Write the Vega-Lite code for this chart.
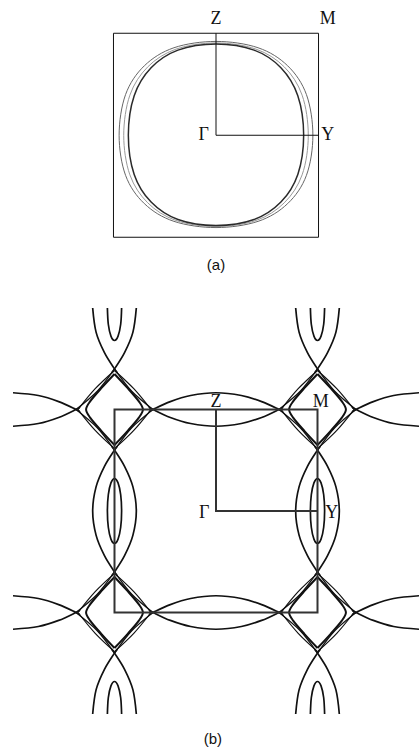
{
  "$schema": "https://vega.github.io/schema/vega-lite/v6.json",
  "padding": {"left": 9, "top": 0, "right": 0, "bottom": 0},
  "background": "white",
  "spacing": 0,
  "bounds": "flush",
  "config": {"view": {"stroke": null}},
  "datasets": {
    "fsA": [
      {"c":"out","x":0.945,"y":0},{"c":"out","x":0.882,"y":0.399},{"c":"out","x":0.699,"y":0.681},{"c":"out","x":0.41,"y":0.858},{"c":"out","x":0,"y":0.92},{"c":"out","x":-0.41,"y":0.858},{"c":"out","x":-0.699,"y":0.681},{"c":"out","x":-0.882,"y":0.399},{"c":"out","x":-0.945,"y":0},{"c":"out","x":-0.882,"y":-0.393},{"c":"out","x":-0.699,"y":-0.67},{"c":"out","x":-0.41,"y":-0.844},{"c":"out","x":0,"y":-0.905},{"c":"out","x":0.41,"y":-0.844},{"c":"out","x":0.699,"y":-0.67},{"c":"out","x":0.882,"y":-0.393},
      {"c":"mid","x":0.9,"y":0},{"c":"mid","x":0.84,"y":0.393},{"c":"mid","x":0.666,"y":0.67},{"c":"mid","x":0.391,"y":0.844},{"c":"mid","x":0,"y":0.905},{"c":"mid","x":-0.391,"y":0.844},{"c":"mid","x":-0.666,"y":0.67},{"c":"mid","x":-0.84,"y":0.393},{"c":"mid","x":-0.9,"y":0},{"c":"mid","x":-0.84,"y":-0.388},{"c":"mid","x":-0.666,"y":-0.662},{"c":"mid","x":-0.391,"y":-0.835},{"c":"mid","x":0,"y":-0.895},{"c":"mid","x":0.391,"y":-0.835},{"c":"mid","x":0.666,"y":-0.662},{"c":"mid","x":0.84,"y":-0.388},
      {"c":"inn","x":0.855,"y":0},{"c":"inn","x":0.798,"y":0.388},{"c":"inn","x":0.633,"y":0.662},{"c":"inn","x":0.371,"y":0.835},{"c":"inn","x":0,"y":0.895},{"c":"inn","x":-0.371,"y":0.835},{"c":"inn","x":-0.633,"y":0.662},{"c":"inn","x":-0.798,"y":0.388},{"c":"inn","x":-0.855,"y":0},{"c":"inn","x":-0.798,"y":-0.384},{"c":"inn","x":-0.633,"y":-0.655},{"c":"inn","x":-0.371,"y":-0.826},{"c":"inn","x":0,"y":-0.885},{"c":"inn","x":0.371,"y":-0.826},{"c":"inn","x":0.633,"y":-0.655},{"c":"inn","x":0.798,"y":-0.384}
    ],
    "zone": [{"x":-1,"x2":1,"y":-1,"y2":1}],
    "path": [{"x":0,"y":1},{"x":0,"y":0},{"x":1,"y":0}],
    "labA": [{"t":"Z","x":0,"y":1.135},{"t":"M","x":1.09,"y":1.135},{"t":"Γ","x":-0.12,"y":0},{"t":"Y","x":1.09,"y":0}],
    "labB": [{"t":"Z","x":0,"y":1.077},{"t":"M","x":1.032,"y":1.077},{"t":"Γ","x":-0.116,"y":-0.015},{"t":"Y","x":1.141,"y":-0.015}],
    "capA": [{"t":"(a)","x":0,"y":-1.27}],
    "capB": [{"t":"(b)","x":-0.03,"y":-2.246}],
    "openB": [
      {"c":"h0tu","x":-0.66,"y":0.978},{"c":"h0tu","x":-0.62,"y":1},{"c":"h0tu","x":-0.45,"y":1.078},{"c":"h0tu","x":-0.25,"y":1.138},{"c":"h0tu","x":0,"y":1.165},{"c":"h0tu","x":0.25,"y":1.138},{"c":"h0tu","x":0.45,"y":1.078},{"c":"h0tu","x":0.62,"y":1},{"c":"h0tu","x":0.66,"y":0.978},
      {"c":"h0tl","x":-0.66,"y":1.022},{"c":"h0tl","x":-0.62,"y":1},{"c":"h0tl","x":-0.45,"y":0.922},{"c":"h0tl","x":-0.25,"y":0.862},{"c":"h0tl","x":0,"y":0.835},{"c":"h0tl","x":0.25,"y":0.862},{"c":"h0tl","x":0.45,"y":0.922},{"c":"h0tl","x":0.62,"y":1},{"c":"h0tl","x":0.66,"y":1.022},
      {"c":"h0bu","x":-0.66,"y":-0.978},{"c":"h0bu","x":-0.62,"y":-1},{"c":"h0bu","x":-0.45,"y":-1.078},{"c":"h0bu","x":-0.25,"y":-1.138},{"c":"h0bu","x":0,"y":-1.165},{"c":"h0bu","x":0.25,"y":-1.138},{"c":"h0bu","x":0.45,"y":-1.078},{"c":"h0bu","x":0.62,"y":-1},{"c":"h0bu","x":0.66,"y":-0.978},
      {"c":"h0bl","x":-0.66,"y":-1.022},{"c":"h0bl","x":-0.62,"y":-1},{"c":"h0bl","x":-0.45,"y":-0.922},{"c":"h0bl","x":-0.25,"y":-0.862},{"c":"h0bl","x":0,"y":-0.835},{"c":"h0bl","x":0.25,"y":-0.862},{"c":"h0bl","x":0.45,"y":-0.922},{"c":"h0bl","x":0.62,"y":-1},{"c":"h0bl","x":0.66,"y":-1.022},
      {"c":"hLt1","x":-2,"y":1.165},{"c":"hLt1","x":-1.75,"y":1.138},{"c":"hLt1","x":-1.55,"y":1.078},{"c":"hLt1","x":-1.38,"y":1},{"c":"hLt1","x":-1.34,"y":0.978},
      {"c":"hLt2","x":-2,"y":0.835},{"c":"hLt2","x":-1.75,"y":0.862},{"c":"hLt2","x":-1.55,"y":0.922},{"c":"hLt2","x":-1.38,"y":1},{"c":"hLt2","x":-1.34,"y":1.022},
      {"c":"hLb1","x":-2,"y":-1.165},{"c":"hLb1","x":-1.75,"y":-1.138},{"c":"hLb1","x":-1.55,"y":-1.078},{"c":"hLb1","x":-1.38,"y":-1},{"c":"hLb1","x":-1.34,"y":-0.978},
      {"c":"hLb2","x":-2,"y":-0.835},{"c":"hLb2","x":-1.75,"y":-0.862},{"c":"hLb2","x":-1.55,"y":-0.922},{"c":"hLb2","x":-1.38,"y":-1},{"c":"hLb2","x":-1.34,"y":-1.022},
      {"c":"hRt1","x":2,"y":1.165},{"c":"hRt1","x":1.75,"y":1.138},{"c":"hRt1","x":1.55,"y":1.078},{"c":"hRt1","x":1.38,"y":1},{"c":"hRt1","x":1.34,"y":0.978},
      {"c":"hRt2","x":2,"y":0.835},{"c":"hRt2","x":1.75,"y":0.862},{"c":"hRt2","x":1.55,"y":0.922},{"c":"hRt2","x":1.38,"y":1},{"c":"hRt2","x":1.34,"y":1.022},
      {"c":"hRb1","x":2,"y":-1.165},{"c":"hRb1","x":1.75,"y":-1.138},{"c":"hRb1","x":1.55,"y":-1.078},{"c":"hRb1","x":1.38,"y":-1},{"c":"hRb1","x":1.34,"y":-0.978},
      {"c":"hRb2","x":2,"y":-0.835},{"c":"hRb2","x":1.75,"y":-0.862},{"c":"hRb2","x":1.55,"y":-0.922},{"c":"hRb2","x":1.38,"y":-1},{"c":"hRb2","x":1.34,"y":-1.022},
      {"c":"vR1","x":0.97,"y":-0.64},{"c":"vR1","x":1,"y":-0.6},{"c":"vR1","x":1.099,"y":-0.44},{"c":"vR1","x":1.181,"y":-0.24},{"c":"vR1","x":1.215,"y":0},{"c":"vR1","x":1.181,"y":0.24},{"c":"vR1","x":1.099,"y":0.44},{"c":"vR1","x":1,"y":0.6},{"c":"vR1","x":0.97,"y":0.64},
      {"c":"vR2","x":1.03,"y":-0.64},{"c":"vR2","x":1,"y":-0.6},{"c":"vR2","x":0.901,"y":-0.44},{"c":"vR2","x":0.819,"y":-0.24},{"c":"vR2","x":0.785,"y":0},{"c":"vR2","x":0.819,"y":0.24},{"c":"vR2","x":0.901,"y":0.44},{"c":"vR2","x":1,"y":0.6},{"c":"vR2","x":1.03,"y":0.64},
      {"c":"vL1","x":-0.97,"y":-0.64},{"c":"vL1","x":-1,"y":-0.6},{"c":"vL1","x":-1.099,"y":-0.44},{"c":"vL1","x":-1.181,"y":-0.24},{"c":"vL1","x":-1.215,"y":0},{"c":"vL1","x":-1.181,"y":0.24},{"c":"vL1","x":-1.099,"y":0.44},{"c":"vL1","x":-1,"y":0.6},{"c":"vL1","x":-0.97,"y":0.64},
      {"c":"vL2","x":-1.03,"y":-0.64},{"c":"vL2","x":-1,"y":-0.6},{"c":"vL2","x":-0.901,"y":-0.44},{"c":"vL2","x":-0.819,"y":-0.24},{"c":"vL2","x":-0.785,"y":0},{"c":"vL2","x":-0.819,"y":0.24},{"c":"vL2","x":-0.901,"y":0.44},{"c":"vL2","x":-1,"y":0.6},{"c":"vL2","x":-1.03,"y":0.64},
      {"c":"vRT1","x":1.215,"y":2},{"c":"vRT1","x":1.181,"y":1.76},{"c":"vRT1","x":1.099,"y":1.56},{"c":"vRT1","x":1,"y":1.4},{"c":"vRT1","x":0.97,"y":1.36},
      {"c":"vRT2","x":0.785,"y":2},{"c":"vRT2","x":0.819,"y":1.76},{"c":"vRT2","x":0.901,"y":1.56},{"c":"vRT2","x":1,"y":1.4},{"c":"vRT2","x":1.03,"y":1.36},
      {"c":"vLT1","x":-1.215,"y":2},{"c":"vLT1","x":-1.181,"y":1.76},{"c":"vLT1","x":-1.099,"y":1.56},{"c":"vLT1","x":-1,"y":1.4},{"c":"vLT1","x":-0.97,"y":1.36},
      {"c":"vLT2","x":-0.785,"y":2},{"c":"vLT2","x":-0.819,"y":1.76},{"c":"vLT2","x":-0.901,"y":1.56},{"c":"vLT2","x":-1,"y":1.4},{"c":"vLT2","x":-1.03,"y":1.36},
      {"c":"vRB1","x":1.215,"y":-2},{"c":"vRB1","x":1.181,"y":-1.76},{"c":"vRB1","x":1.099,"y":-1.56},{"c":"vRB1","x":1,"y":-1.4},{"c":"vRB1","x":0.97,"y":-1.36},
      {"c":"vRB2","x":0.785,"y":-2},{"c":"vRB2","x":0.819,"y":-1.76},{"c":"vRB2","x":0.901,"y":-1.56},{"c":"vRB2","x":1,"y":-1.4},{"c":"vRB2","x":1.03,"y":-1.36},
      {"c":"vLB1","x":-1.215,"y":-2},{"c":"vLB1","x":-1.181,"y":-1.76},{"c":"vLB1","x":-1.099,"y":-1.56},{"c":"vLB1","x":-1,"y":-1.4},{"c":"vLB1","x":-0.97,"y":-1.36},
      {"c":"vLB2","x":-0.785,"y":-2},{"c":"vLB2","x":-0.819,"y":-1.76},{"c":"vLB2","x":-0.901,"y":-1.56},{"c":"vLB2","x":-1,"y":-1.4},{"c":"vLB2","x":-1.03,"y":-1.36},
      {"c":"uRT","x":0.93,"y":2},{"c":"uRT","x":0.939,"y":1.84},{"c":"uRT","x":0.965,"y":1.723},{"c":"uRT","x":1,"y":1.68},{"c":"uRT","x":1.035,"y":1.723},{"c":"uRT","x":1.061,"y":1.84},{"c":"uRT","x":1.07,"y":2},
      {"c":"uLT","x":-1.07,"y":2},{"c":"uLT","x":-1.061,"y":1.84},{"c":"uLT","x":-1.035,"y":1.723},{"c":"uLT","x":-1,"y":1.68},{"c":"uLT","x":-0.965,"y":1.723},{"c":"uLT","x":-0.939,"y":1.84},{"c":"uLT","x":-0.93,"y":2},
      {"c":"uRB","x":0.93,"y":-2},{"c":"uRB","x":0.939,"y":-1.84},{"c":"uRB","x":0.965,"y":-1.723},{"c":"uRB","x":1,"y":-1.68},{"c":"uRB","x":1.035,"y":-1.723},{"c":"uRB","x":1.061,"y":-1.84},{"c":"uRB","x":1.07,"y":-2},
      {"c":"uLB","x":-1.07,"y":-2},{"c":"uLB","x":-1.061,"y":-1.84},{"c":"uLB","x":-1.035,"y":-1.723},{"c":"uLB","x":-1,"y":-1.68},{"c":"uLB","x":-0.965,"y":-1.723},{"c":"uLB","x":-0.939,"y":-1.84},{"c":"uLB","x":-0.93,"y":-2}
    ],
    "sidesB": [
      {"c":"a1","x":1.38,"y":1},{"c":"a1","x":1.17,"y":1.18},{"c":"a1","x":1,"y":1.4},
      {"c":"a2","x":1,"y":1.4},{"c":"a2","x":0.83,"y":1.18},{"c":"a2","x":0.62,"y":1},
      {"c":"a3","x":0.62,"y":1},{"c":"a3","x":0.83,"y":0.82},{"c":"a3","x":1,"y":0.6},
      {"c":"a4","x":1,"y":0.6},{"c":"a4","x":1.17,"y":0.82},{"c":"a4","x":1.38,"y":1},
      {"c":"b1","x":-0.62,"y":1},{"c":"b1","x":-0.83,"y":1.18},{"c":"b1","x":-1,"y":1.4},
      {"c":"b2","x":-1,"y":1.4},{"c":"b2","x":-1.17,"y":1.18},{"c":"b2","x":-1.38,"y":1},
      {"c":"b3","x":-1.38,"y":1},{"c":"b3","x":-1.17,"y":0.82},{"c":"b3","x":-1,"y":0.6},
      {"c":"b4","x":-1,"y":0.6},{"c":"b4","x":-0.83,"y":0.82},{"c":"b4","x":-0.62,"y":1},
      {"c":"c1","x":1.38,"y":-1},{"c":"c1","x":1.17,"y":-0.82},{"c":"c1","x":1,"y":-0.6},
      {"c":"c2","x":1,"y":-0.6},{"c":"c2","x":0.83,"y":-0.82},{"c":"c2","x":0.62,"y":-1},
      {"c":"c3","x":0.62,"y":-1},{"c":"c3","x":0.83,"y":-1.18},{"c":"c3","x":1,"y":-1.4},
      {"c":"c4","x":1,"y":-1.4},{"c":"c4","x":1.17,"y":-1.18},{"c":"c4","x":1.38,"y":-1},
      {"c":"d1","x":-0.62,"y":-1},{"c":"d1","x":-0.83,"y":-0.82},{"c":"d1","x":-1,"y":-0.6},
      {"c":"d2","x":-1,"y":-0.6},{"c":"d2","x":-1.17,"y":-0.82},{"c":"d2","x":-1.38,"y":-1},
      {"c":"d3","x":-1.38,"y":-1},{"c":"d3","x":-1.17,"y":-1.18},{"c":"d3","x":-1,"y":-1.4},
      {"c":"d4","x":-1,"y":-1.4},{"c":"d4","x":-0.83,"y":-1.18},{"c":"d4","x":-0.62,"y":-1},

      {"c":"e1","x":1.36,"y":1},{"c":"e1","x":1.19,"y":1.205},{"c":"e1","x":1,"y":1.385},
      {"c":"e2","x":1,"y":1.385},{"c":"e2","x":0.81,"y":1.205},{"c":"e2","x":0.64,"y":1},
      {"c":"e3","x":0.64,"y":1},{"c":"e3","x":0.81,"y":0.795},{"c":"e3","x":1,"y":0.615},
      {"c":"e4","x":1,"y":0.615},{"c":"e4","x":1.19,"y":0.795},{"c":"e4","x":1.36,"y":1},
      {"c":"f1","x":-0.64,"y":1},{"c":"f1","x":-0.81,"y":1.205},{"c":"f1","x":-1,"y":1.385},
      {"c":"f2","x":-1,"y":1.385},{"c":"f2","x":-1.19,"y":1.205},{"c":"f2","x":-1.36,"y":1},
      {"c":"f3","x":-1.36,"y":1},{"c":"f3","x":-1.19,"y":0.795},{"c":"f3","x":-1,"y":0.615},
      {"c":"f4","x":-1,"y":0.615},{"c":"f4","x":-0.81,"y":0.795},{"c":"f4","x":-0.64,"y":1},
      {"c":"g1","x":1.36,"y":-1},{"c":"g1","x":1.19,"y":-0.795},{"c":"g1","x":1,"y":-0.615},
      {"c":"g2","x":1,"y":-0.615},{"c":"g2","x":0.81,"y":-0.795},{"c":"g2","x":0.64,"y":-1},
      {"c":"g3","x":0.64,"y":-1},{"c":"g3","x":0.81,"y":-1.205},{"c":"g3","x":1,"y":-1.385},
      {"c":"g4","x":1,"y":-1.385},{"c":"g4","x":1.19,"y":-1.205},{"c":"g4","x":1.36,"y":-1},
      {"c":"h1","x":-0.64,"y":-1},{"c":"h1","x":-0.81,"y":-0.795},{"c":"h1","x":-1,"y":-0.615},
      {"c":"h2","x":-1,"y":-0.615},{"c":"h2","x":-1.19,"y":-0.795},{"c":"h2","x":-1.36,"y":-1},
      {"c":"h3","x":-1.36,"y":-1},{"c":"h3","x":-1.19,"y":-1.205},{"c":"h3","x":-1,"y":-1.385},
      {"c":"h4","x":-1,"y":-1.385},{"c":"h4","x":-0.81,"y":-1.205},{"c":"h4","x":-0.64,"y":-1}
    ],
    "coreB": [
      {"c":"pR","x":1,"y":1.35},{"c":"pR","x":1.13,"y":1.21},{"c":"pR","x":1.24,"y":1.08},{"c":"pR","x":1.28,"y":1},{"c":"pR","x":1.24,"y":0.92},{"c":"pR","x":1.13,"y":0.79},{"c":"pR","x":1,"y":0.65},
      {"c":"pL","x":1,"y":1.35},{"c":"pL","x":0.87,"y":1.21},{"c":"pL","x":0.76,"y":1.08},{"c":"pL","x":0.72,"y":1},{"c":"pL","x":0.76,"y":0.92},{"c":"pL","x":0.87,"y":0.79},{"c":"pL","x":1,"y":0.65},
      {"c":"qR","x":-1,"y":1.35},{"c":"qR","x":-0.87,"y":1.21},{"c":"qR","x":-0.76,"y":1.08},{"c":"qR","x":-0.72,"y":1},{"c":"qR","x":-0.76,"y":0.92},{"c":"qR","x":-0.87,"y":0.79},{"c":"qR","x":-1,"y":0.65},
      {"c":"qL","x":-1,"y":1.35},{"c":"qL","x":-1.13,"y":1.21},{"c":"qL","x":-1.24,"y":1.08},{"c":"qL","x":-1.28,"y":1},{"c":"qL","x":-1.24,"y":0.92},{"c":"qL","x":-1.13,"y":0.79},{"c":"qL","x":-1,"y":0.65},
      {"c":"rR","x":1,"y":-0.65},{"c":"rR","x":1.13,"y":-0.79},{"c":"rR","x":1.24,"y":-0.92},{"c":"rR","x":1.28,"y":-1},{"c":"rR","x":1.24,"y":-1.08},{"c":"rR","x":1.13,"y":-1.21},{"c":"rR","x":1,"y":-1.35},
      {"c":"rL","x":1,"y":-0.65},{"c":"rL","x":0.87,"y":-0.79},{"c":"rL","x":0.76,"y":-0.92},{"c":"rL","x":0.72,"y":-1},{"c":"rL","x":0.76,"y":-1.08},{"c":"rL","x":0.87,"y":-1.21},{"c":"rL","x":1,"y":-1.35},
      {"c":"sR","x":-1,"y":-0.65},{"c":"sR","x":-0.87,"y":-0.79},{"c":"sR","x":-0.76,"y":-0.92},{"c":"sR","x":-0.72,"y":-1},{"c":"sR","x":-0.76,"y":-1.08},{"c":"sR","x":-0.87,"y":-1.21},{"c":"sR","x":-1,"y":-1.35},
      {"c":"sL","x":-1,"y":-0.65},{"c":"sL","x":-1.13,"y":-0.79},{"c":"sL","x":-1.24,"y":-0.92},{"c":"sL","x":-1.28,"y":-1},{"c":"sL","x":-1.24,"y":-1.08},{"c":"sL","x":-1.13,"y":-1.21},{"c":"sL","x":-1,"y":-1.35}
    ],
    "ellB": [
      {"c":"eR","x":1.07,"y":0},{"c":"eR","x":1.061,"y":0.16},{"c":"eR","x":1.035,"y":0.277},{"c":"eR","x":1,"y":0.32},{"c":"eR","x":0.965,"y":0.277},{"c":"eR","x":0.939,"y":0.16},{"c":"eR","x":0.93,"y":0},{"c":"eR","x":0.939,"y":-0.16},{"c":"eR","x":0.965,"y":-0.277},{"c":"eR","x":1,"y":-0.32},{"c":"eR","x":1.035,"y":-0.277},{"c":"eR","x":1.061,"y":-0.16},
      {"c":"eL","x":-0.93,"y":0},{"c":"eL","x":-0.939,"y":0.16},{"c":"eL","x":-0.965,"y":0.277},{"c":"eL","x":-1,"y":0.32},{"c":"eL","x":-1.035,"y":0.277},{"c":"eL","x":-1.061,"y":0.16},{"c":"eL","x":-1.07,"y":0},{"c":"eL","x":-1.061,"y":-0.16},{"c":"eL","x":-1.035,"y":-0.277},{"c":"eL","x":-1,"y":-0.32},{"c":"eL","x":-0.965,"y":-0.277},{"c":"eL","x":-0.939,"y":-0.16}
    ]
  },
  "vconcat": [
    {
      "width": 406,
      "height": 280,
      "encoding": {
        "x": {"field": "x", "type": "quantitative", "scale": {"domain": [-1.98, 1.98]}, "axis": null},
        "y": {"field": "y", "type": "quantitative", "scale": {"domain": [-1.419, 1.326]}, "axis": null}
      },
      "layer": [
        {
          "data": {"name": "zone"},
          "mark": {"type": "rect", "fillOpacity": 0, "stroke": "#111", "strokeWidth": 1},
          "encoding": {"x2": {"field": "x2"}, "y2": {"field": "y2"}}
        },
        {
          "data": {"name": "fsA"},
          "transform": [{"filter": "datum.c === 'out'"}],
          "mark": {"type": "line", "interpolate": "cardinal-closed", "stroke": "#666", "strokeWidth": 1},
          "encoding": {"detail": {"field": "c"}, "order": {"value": null}}
        },
        {
          "data": {"name": "fsA"},
          "transform": [{"filter": "datum.c === 'mid'"}],
          "mark": {"type": "line", "interpolate": "cardinal-closed", "stroke": "#999", "strokeWidth": 1},
          "encoding": {"detail": {"field": "c"}, "order": {"value": null}}
        },
        {
          "data": {"name": "fsA"},
          "transform": [{"filter": "datum.c === 'inn'"}],
          "mark": {"type": "line", "interpolate": "cardinal-closed", "stroke": "#2a2a2a", "strokeWidth": 1.5},
          "encoding": {"detail": {"field": "c"}, "order": {"value": null}}
        },
        {
          "data": {"name": "path"},
          "mark": {"type": "line", "stroke": "#111", "strokeWidth": 1},
          "encoding": {"order": {"value": null}}
        },
        {
          "data": {"name": "labA"},
          "mark": {"type": "text", "font": "Liberation Serif", "fontSize": 18, "baseline": "middle", "align": "center", "color": "#111"},
          "encoding": {"text": {"field": "t"}}
        },
        {
          "data": {"name": "capA"},
          "mark": {"type": "text", "font": "Liberation Sans", "fontSize": 15, "baseline": "middle", "align": "center", "color": "#111"},
          "encoding": {"text": {"field": "t"}}
        }
      ]
    },
    {
      "width": 406,
      "height": 468,
      "encoding": {
        "x": {"field": "x", "type": "quantitative", "scale": {"domain": [-2, 2]}, "axis": null},
        "y": {"field": "y", "type": "quantitative", "scale": {"domain": [-2.335, 2.276]}, "axis": null}
      },
      "layer": [
        {
          "data": {"name": "openB"},
          "mark": {"type": "line", "interpolate": "cardinal", "stroke": "#111", "strokeWidth": 1.7},
          "encoding": {"detail": {"field": "c"}, "order": {"value": null}}
        },
        {
          "data": {"name": "sidesB"},
          "mark": {"type": "line", "interpolate": "cardinal", "stroke": "#111", "strokeWidth": 1.2},
          "encoding": {"detail": {"field": "c"}, "order": {"value": null}}
        },
        {
          "data": {"name": "coreB"},
          "mark": {"type": "line", "interpolate": "cardinal", "stroke": "#111", "strokeWidth": 2},
          "encoding": {"detail": {"field": "c"}, "order": {"value": null}}
        },
        {
          "data": {"name": "ellB"},
          "mark": {"type": "line", "interpolate": "cardinal-closed", "stroke": "#111", "strokeWidth": 1.7},
          "encoding": {"detail": {"field": "c"}, "order": {"value": null}}
        },
        {
          "data": {"name": "zone"},
          "mark": {"type": "rect", "fillOpacity": 0, "stroke": "#333", "strokeWidth": 2},
          "encoding": {"x2": {"field": "x2"}, "y2": {"field": "y2"}}
        },
        {
          "data": {"name": "path"},
          "mark": {"type": "line", "stroke": "#333", "strokeWidth": 2},
          "encoding": {"order": {"value": null}}
        },
        {
          "data": {"name": "labB"},
          "mark": {"type": "text", "font": "Liberation Serif", "fontSize": 18, "baseline": "middle", "align": "center", "color": "#111"},
          "encoding": {"text": {"field": "t"}}
        },
        {
          "data": {"name": "capB"},
          "mark": {"type": "text", "font": "Liberation Sans", "fontSize": 15, "baseline": "middle", "align": "center", "color": "#111"},
          "encoding": {"text": {"field": "t"}}
        }
      ]
    }
  ]
}
